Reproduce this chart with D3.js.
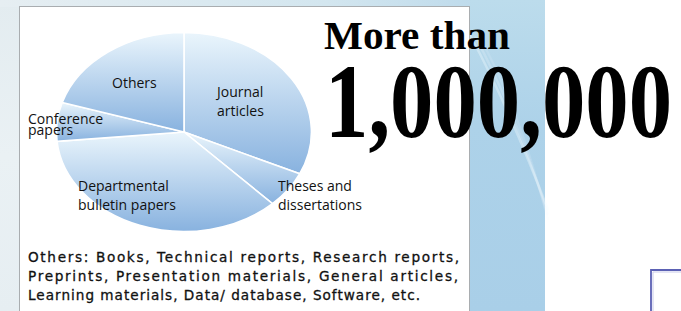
<!DOCTYPE html>
<html>
<head>
<meta charset="utf-8">
<script src="https://cdn.jsdelivr.net/npm/d3@7/dist/d3.min.js"></script>
<style>
html,body{margin:0;padding:0;background:#fff;}
svg{display:block;}
</style>
</head>
<body>
<svg id="chart" width="681" height="311"></svg>
<script>
// ---- data ----
const categories = ["Journal articles", "Theses and dissertations", "Departmental bulletin papers", "Conference papers", "Others"];
const labelLines = [["Journal", "articles"], ["Theses and", "dissertations"], ["Departmental", "bulletin papers"], ["Conference", "papers"], ["Others"]];
const shares = [31.9, 5.9, 35.7, 6.3, 20.2];
const headline = ["More than", "1,000,000"];
const noteLines = [
  "Others: Books, Technical reports, Research reports,",
  "Preprints, Presentation materials, General articles,",
  "Learning materials, Data/ database, Software, etc."
];

// ---- layout ----
const svg = d3.select("#chart");
const defs = svg.append("defs");

// background gradients
const bgLeft = defs.append("linearGradient").attr("id", "bgLeft").attr("x1", 0).attr("y1", 0).attr("x2", 0).attr("y2", 1);
bgLeft.append("stop").attr("offset", 0).attr("stop-color", "#e3ecf0");
bgLeft.append("stop").attr("offset", 0.5).attr("stop-color", "#eaf1f4");
bgLeft.append("stop").attr("offset", 1).attr("stop-color", "#e6eef2");
const bgTop = defs.append("linearGradient").attr("id", "bgTop").attr("x1", 0).attr("y1", 0).attr("x2", 1).attr("y2", 0);
bgTop.append("stop").attr("offset", 0).attr("stop-color", "#e6eef2");
bgTop.append("stop").attr("offset", 0.6).attr("stop-color", "#d3e6ef");
bgTop.append("stop").attr("offset", 1).attr("stop-color", "#b5d6ea");
const bgStrip = defs.append("linearGradient").attr("id", "bgStrip").attr("x1", 0).attr("y1", 0).attr("x2", 0).attr("y2", 1);
bgStrip.append("stop").attr("offset", 0).attr("stop-color", "#bcdcec");
bgStrip.append("stop").attr("offset", 0.4).attr("stop-color", "#add2e9");
bgStrip.append("stop").attr("offset", 1).attr("stop-color", "#a9cfe8");

svg.append("rect").attr("x", 0).attr("y", 0).attr("width", 545).attr("height", 311).attr("fill", "url(#bgLeft)");
svg.append("rect").attr("x", 0).attr("y", 0).attr("width", 545).attr("height", 7).attr("fill", "url(#bgTop)");
svg.append("rect").attr("x", 470).attr("y", 0).attr("width", 75).attr("height", 311).attr("fill", "url(#bgStrip)");
// light streaks on the strip
[[0, 0.35], [5, 0.22], [10, 0.15]].forEach(([d, o]) => {
  svg.append("path")
    .attr("d", `M${470 + d},${35 + d * 0.3} Q${508 + d},${105} ${548},${210 + d}`)
    .attr("fill", "none").attr("stroke", "#f4fbff").attr("stroke-width", 2.5).attr("opacity", o);
});

// white panel
svg.append("rect").attr("x", 19.5).attr("y", 6.5).attr("width", 450).attr("height", 320)
  .attr("fill", "#fff").attr("stroke", "#a9adb0").attr("stroke-width", 1);

// ---- pie ----
const cx = 184, cy = 132, rx = 127.5, ry = 99.5;
const sliceGrad = defs.append("linearGradient").attr("id", "slice").attr("x1", 0).attr("y1", 0).attr("x2", 0).attr("y2", 1);
sliceGrad.append("stop").attr("offset", 0).attr("stop-color", "#eaf5fc");
sliceGrad.append("stop").attr("offset", 1).attr("stop-color", "#88b2df");

const pie = d3.pie().sort(null).value(d => d).startAngle(0).endAngle(2 * Math.PI);
const arc = d3.arc().innerRadius(0).outerRadius(1);
const arcs = pie(shares);

const pieG = svg.append("g").attr("transform", `translate(${cx},${cy}) scale(${rx},${ry})`);
pieG.selectAll("path").data(arcs).join("path")
  .attr("d", arc)
  .attr("fill", "url(#slice)")
  .attr("stroke", "#fff")
  .attr("stroke-width", 1.6)
  .attr("vector-effect", "non-scaling-stroke");

// labels (anchors per category, left aligned)
const labelPos = [
  {x: 217, y: 97, lh: 18.5},
  {x: 278, y: 191, lh: 19},
  {x: 78, y: 191, lh: 19},
  {x: 28, y: 124, lh: 11},
  {x: 112, y: 88, lh: 18}
];
const labG = svg.append("g")
  .attr("font-family", "'Open Sans', 'Noto Sans', sans-serif")
  .attr("font-size", 14).attr("fill", "#111");
categories.forEach((c, i) => {
  const t = labG.append("text").attr("x", labelPos[i].x).attr("y", labelPos[i].y);
  labelLines[i].forEach((ln, j) => {
    t.append("tspan").attr("x", labelPos[i].x).attr("y", labelPos[i].y + j * labelPos[i].lh).text(ln);
  });
});

// ---- headline ----
svg.append("text").attr("x", 324).attr("y", 49)
  .attr("font-family", "'Liberation Serif', 'Times New Roman', serif").attr("font-weight", "bold")
  .attr("font-size", 40).attr("fill", "#000")
  .attr("textLength", 186).attr("lengthAdjust", "spacingAndGlyphs")
  .text(headline[0]);
svg.append("text").attr("x", 325).attr("y", 137)
  .attr("font-family", "'Liberation Serif', 'Times New Roman', serif").attr("font-weight", "bold")
  .attr("font-size", 106).attr("fill", "#000")
  .attr("textLength", 347).attr("lengthAdjust", "spacingAndGlyphs")
  .text(headline[1]);

// ---- note ----
const noteEnds = [459, 458, 420];
const noteG = svg.append("g")
  .attr("font-family", "'DejaVu Sans', 'Liberation Sans', Arial, sans-serif")
  .attr("font-size", 13.6).attr("fill", "#111")
  .attr("stroke", "#111").attr("stroke-width", 0.3);
noteLines.forEach((ln, i) => {
  noteG.append("text").attr("x", 28).attr("y", 262 + i * 18.8)
    .attr("textLength", noteEnds[i] - 28).attr("lengthAdjust", "spacing")
    .text(ln);
});

// small box bottom right
svg.append("path").attr("d", "M651,311 V270 H681")
  .attr("fill", "none").attr("stroke", "#5b61b4").attr("stroke-width", 1.8);
svg.append("path").attr("d", "M653,311 V272 H681")
  .attr("fill", "none").attr("stroke", "#c9cbe9").attr("stroke-width", 1);
</script>
</body>
</html>
